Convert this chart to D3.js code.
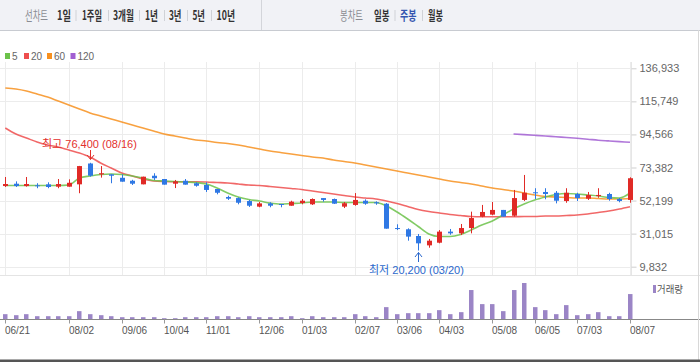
<!DOCTYPE html>
<html>
<head>
<meta charset="utf-8">
<script src="https://cdn.jsdelivr.net/npm/d3@7"></script>
<style>
  body { margin: 0; background: #fff; }
  svg { display: block; font-family: "Liberation Sans", "Noto Sans CJK KR", sans-serif; }
</style>
</head>
<body>
<svg width="700" height="362"></svg>
<script>
// weekly candles, 06/21 .. 08/07 (60 weeks)
const opens  = [61500,63000,61500,62000,62600,61100,61100,62600,75950,69000,69000,66800,64900,62600,68100,66000,63000,64900,63300,62200,
                59600,54500,53800,51900,48300,50400,50000,48900,50600,49800,53800,53200,48300,49400,52100,51100,50200,34600,33800,29500,
                23500,25200,32300,31200,34600,41900,43200,46200,42500,52600,57500,57700,57200,51900,56400,53400,55100,56400,53200,52600]
const highs  = [67300,64500,67300,63300,63900,66000,65800,74400,76400,74300,69000,69000,65500,67500,69700,66000,65400,66000,63900,63900,
                59600,55300,54300,52600,51300,51100,50000,52100,53200,53600,53800,53500,51300,57000,53000,51700,50600,37000,34400,30800,
                27600,33300,34000,37200,45100,49400,51300,46200,59000,68600,60100,60100,58300,60100,57200,57700,60100,57200,53800,67100]
const lows   = [60900,60900,61100,60100,60100,60100,61100,56900,67500,66900,63300,64300,62200,62600,65400,62400,60200,62400,61100,57700,
                56200,52600,49800,48100,47900,47900,47900,48900,49800,49400,51500,50000,47400,48900,49500,49500,34200,33300,26500,20200,
                22000,24800,30300,30100,31200,41500,42800,41900,41900,51900,53200,53000,50400,50800,51900,52600,54000,52100,51100,50800]
const closes = [62800,61500,62800,61500,60900,62800,63600,74300,68100,69700,68100,64300,63000,67500,66500,62400,64500,62400,61700,59000,
                57200,53400,50800,48900,50400,48900,49400,51500,52100,53200,52600,50200,50500,52600,50200,50400,34200,34000,29100,24800,
                26500,32300,31200,34600,41000,44900,46200,41900,53800,57200,56900,56400,52100,57200,53800,55800,55800,53200,51900,66500]
const volumes = [530,430,530,330,330,330,330,830,530,430,330,230,230,230,230,130,130,230,230,230,
                 330,330,230,330,230,230,230,330,130,330,230,230,230,530,330,230,1230,530,630,630,
                 630,930,530,730,2930,1530,1530,830,2930,3630,1230,930,530,1430,430,530,730,330,330,2530]

// moving averages
const ma5  = [61850,61850,61850,61850,61850,61850,62170,66650,67940,68900,69220,68900,67940,66650,65050,64730,64410,64090,63770,62810,
              60250,57050,54480,52880,51920,50640,50000,50320,50640,51280,51280,51280,50960,50960,50960,50960,48720,44870,40390,35580,
              30780,29180,29180,30460,33340,36550,39110,42950,46800,50000,52560,54480,56080,56720,56400,55760,55120,54160,53840,57040]
const ma20 = [98680,94840,92280,89720,87790,86510,84590,82670,80110,76260,73060,69860,67940,66010,64730,64410,64280,64280,64280,64090,
              63770,63450,62810,62170,61850,61210,60570,59930,59290,58330,57370,56400,55440,54480,53840,53200,51920,50320,48400,46480,
              45190,44230,43270,42630,41990,41860,41860,41860,41860,41990,41990,42310,42310,42630,42950,43590,44550,45510,46800,48270]
const ma60 = [124310,123670,122390,120460,118540,115980,113420,110850,108290,106370,104450,102530,100600,98680,96760,94840,93560,92280,91000,90360,
              89390,88750,87790,86510,85230,83950,82990,82030,81070,80110,79460,78180,77220,76260,74980,73700,72420,71140,69860,68570,
              67290,66010,64730,63770,62810,61530,60250,59290,58320,57040,55760,54800,54480,54160,53840,53840,53520,53200,53200,53520]
const ma120Start = 48
const ma120 = [94840,94460,94010,93560,93050,92600,92090,91510,90870,90420,89970,89520]

const yTicks = [9832,31015,52199,73382,94566,115749,136933]
const tickWeeks = [0,6,11,15,19,24,28,33,37,41,46,50,54,59]
const tickLabels = ['06/21','08/02','09/06','10/04','11/01','12/06','01/03','02/07','03/06','04/03','05/08','06/05','07/03','08/07']

const maSeries = [
  {name: '5', color: '#6cc24a', values: ma5, start: 0},
  {name: '20', color: '#ee4e4e', values: ma20, start: 0},
  {name: '60', color: '#f7901e', values: ma60, start: 0},
  {name: '120', color: '#a25fd2', values: ma120, start: ma120Start}
]
const highIdx = 8, highLabel = '최고 76,400 (08/16)'
const lowIdx = 39, lowLabel = '최저 20,200 (03/20)'

const UP = '#e02a26', DOWN = '#2f78e4', VOL = '#9b85c6'

const svg = d3.select('svg')
const W = 700

// ---- top menu bar ----
const bar = svg.append('g')
bar.append('rect').attr('x', 0).attr('y', 0).attr('width', W).attr('height', 30).attr('fill', '#f1f2f6')
bar.append('line').attr('x1', 0).attr('x2', W).attr('y1', 30.5).attr('y2', 30.5).attr('stroke', '#c8cbd1')
bar.append('line').attr('x1', 261.5).attr('x2', 261.5).attr('y1', 0).attr('y2', 30).attr('stroke', '#d3d5da')
const menu = [
  ['선차트', 25, 23, '#8a8c92', 'normal'], ['1일', 57, 14, '#333', 'bold'], ['1주일', 82, 20, '#333', 'bold'],
  ['3개월', 113, 21, '#333', 'bold'], ['1년', 145, 13, '#333', 'bold'], ['3년', 169, 12.5, '#333', 'bold'],
  ['5년', 192.5, 12.5, '#333', 'bold'], ['10년', 216.5, 18.5, '#333', 'bold'],
  ['봉차트', 340, 23, '#8a8c92', 'normal'], ['일봉', 374, 15.5, '#333', 'bold'],
  ['주봉', 400, 16.5, '#3556b0', 'bold'], ['월봉', 428, 15, '#333', 'bold']
]
// squeeze each label to its width in the reference with a horizontal scale
bar.selectAll('text.menu').data(menu).enter().append('text')
  .attr('class', 'menu')
  .attr('font-family', '"Noto Sans CJK KR", sans-serif')
  .attr('font-size', 13).attr('font-weight', d => d[4])
  .attr('fill', d => d[3])
  .text(d => d[0])
  .attr('transform', function (d) {
    const w = this.getComputedTextLength()
    return `translate(${d[1]},19.5) scale(${d[2] / w},1)`
  })
const seps = [76, 108.5, 139.5, 164.5, 187.5, 211.5, 395, 422.5]
bar.selectAll('line.sep').data(seps).enter().append('line')
  .attr('class', 'sep')
  .attr('x1', d => d).attr('x2', d => d).attr('y1', 10).attr('y2', 21)
  .attr('stroke', '#d0d2d7')

// ---- legend ----
const legend = svg.append('g').attr('transform', 'translate(5, 53)')
const legX = [0, 19, 42, 65.5]
maSeries.forEach((s, i) => {
  legend.append('rect').attr('x', legX[i]).attr('y', 0).attr('width', 5).attr('height', 6).attr('fill', s.color)
  legend.append('text').attr('x', legX[i] + 7).attr('y', 6.5)
    .attr('font-size', 10).attr('fill', '#666').text(s.name)
})

// ---- scales ----
const x = d3.scaleLinear().domain([0, opens.length - 1]).range([5.3, 630])
const y = d3.scaleLinear().domain([9832, 136933]).range([266.7, 68.3])
const yv = d3.scaleLinear().domain([0, d3.max(volumes)]).range([319.5, 283])
const axisX = 631

// grid
const grid = svg.append('g')
grid.selectAll('line.h').data(yTicks).enter().append('line')
  .attr('x1', 0).attr('x2', axisX).attr('y1', d => Math.round(y(d)) + 0.5).attr('y2', d => Math.round(y(d)) + 0.5)
  .attr('stroke', '#ececec')
grid.selectAll('line.v').data(tickWeeks).enter().append('line')
  .attr('x1', d => Math.round(x(d)) + 0.5).attr('x2', d => Math.round(x(d)) + 0.5)
  .attr('y1', 62).attr('y2', 275)
  .attr('stroke', '#ececec')
svg.append('line').attr('x1', 0).attr('x2', W).attr('y1', 275.5).attr('y2', 275.5).attr('stroke', '#e4e4e4')

// y axis on the right
const yAxis = svg.append('g')
  .attr('transform', `translate(${axisX + 0.5},0)`)
  .call(d3.axisRight(y).tickValues(yTicks).tickSize(5).tickFormat(d3.format(',')))
yAxis.select('.domain').attr('stroke', '#e6e6e6').attr('d', 'M0,62V275')
yAxis.selectAll('.tick line').attr('stroke', '#cfcfcf')
yAxis.selectAll('.tick text').attr('font-size', 11).attr('fill', '#666')
  .attr('font-family', '"Liberation Sans", sans-serif')

// moving averages
const line = d3.line().x(d => x(d.i)).y(d => y(d.v)).curve(d3.curveMonotoneX)
maSeries.slice().reverse().forEach(s => {
  const pts = s.values.map((v, k) => ({i: k + s.start, v}))
  svg.append('path').datum(pts)
    .attr('d', line)
    .attr('fill', 'none')
    .attr('stroke', s.color)
    .attr('stroke-width', 1.6)
    .attr('stroke-opacity', 0.85)
})

// candles
const candles = svg.append('g')
const cdata = opens.map((o, i) => ({i, o, h: highs[i], l: lows[i], c: closes[i]}))
candles.selectAll('line').data(cdata).enter().append('line')
  .attr('x1', d => Math.round(x(d.i)) + 0.5).attr('x2', d => Math.round(x(d.i)) + 0.5)
  .attr('y1', d => y(d.h)).attr('y2', d => y(d.l))
  .attr('stroke', d => d.c >= d.o ? UP : DOWN)
candles.selectAll('rect').data(cdata).enter().append('rect')
  .attr('x', d => Math.round(x(d.i)) - 2)
  .attr('width', 5)
  .attr('y', d => y(Math.max(d.o, d.c)))
  .attr('height', d => Math.max(1, Math.abs(y(d.o) - y(d.c))))
  .attr('fill', d => d.c >= d.o ? UP : DOWN)

// high / low marks
const hx = Math.round(x(highIdx)) + 0.5
svg.append('line').attr('x1', hx).attr('x2', hx).attr('y1', 150).attr('y2', 159.5).attr('stroke', '#e3302c')
svg.append('path').attr('d', `M${hx - 3.5},155 L${hx},159.5 L${hx + 3.5},155`).attr('fill', 'none').attr('stroke', '#e3302c')
svg.append('text').attr('x', 42).attr('y', 147.5).attr('font-size', 11).attr('fill', '#e3302c').text(highLabel)

const lx = Math.round(x(lowIdx)) + 0.5
svg.append('line').attr('x1', lx).attr('x2', lx).attr('y1', 252.5).attr('y2', 262).attr('stroke', '#2b68cc')
svg.append('path').attr('d', `M${lx - 3.5},257 L${lx},252.5 L${lx + 3.5},257`).attr('fill', 'none').attr('stroke', '#2b68cc')
svg.append('text').attr('x', 369).attr('y', 273.5).attr('font-size', 11).attr('fill', '#2b68cc').text(lowLabel)

// volume
svg.append('g').selectAll('rect').data(volumes).enter().append('rect')
  .attr('x', (d, i) => Math.round(x(i)) - 2)
  .attr('width', 4.5)
  .attr('y', d => yv(d))
  .attr('height', d => yv(0) - yv(d))
  .attr('fill', VOL)
svg.append('rect').attr('x', 653).attr('y', 285).attr('width', 3).attr('height', 8).attr('fill', VOL)
svg.append('text').attr('font-size', 10).attr('fill', '#555')
  .attr('font-family', '"Noto Sans CJK KR", sans-serif')
  .text('거래량')
  .attr('transform', function () {
    return `translate(657,292.5) scale(${26 / this.getComputedTextLength()},1)`
  })

// date axis
const xAxis = svg.append('g')
  .attr('transform', 'translate(0,319.5)')
  .call(d3.axisBottom(x).tickValues(tickWeeks).tickSize(4).tickFormat((d, i) => tickLabels[i]))
xAxis.select('.domain').attr('stroke', '#888').attr('d', `M0,0H${W}`)
xAxis.selectAll('.tick').attr('transform', d => `translate(${Math.round(x(d)) + 0.5},0)`)
xAxis.selectAll('.tick line').attr('stroke', '#999')
xAxis.selectAll('.tick text').attr('text-anchor', 'start').attr('x', -0.5)
  .attr('font-size', 10).attr('fill', '#555').attr('font-family', '"Liberation Sans", sans-serif')

// frame
svg.append('line').attr('x1', 698.5).attr('x2', 698.5).attr('y1', 30).attr('y2', 360).attr('stroke', '#d8d8d8')
svg.append('rect').attr('x', 0).attr('y', 359.5).attr('width', W).attr('height', 2.5).attr('fill', '#555')
</script>
</body>
</html>
